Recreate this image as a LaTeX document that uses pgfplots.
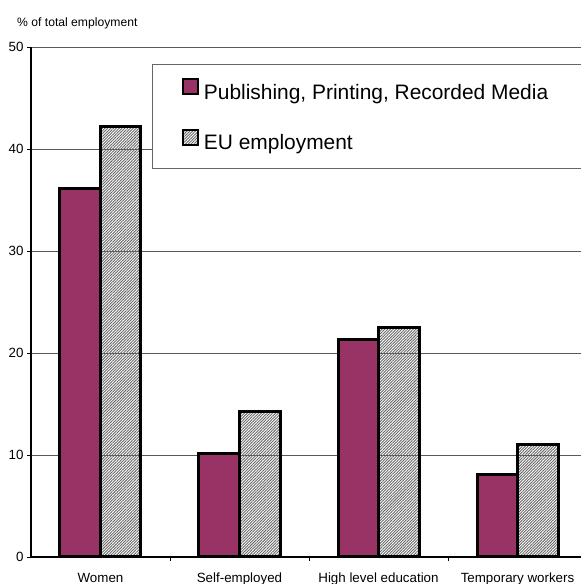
\documentclass[border=0pt]{standalone}
\usepackage{fontspec}
\setmainfont{Liberation Sans}
\usepackage{pgfplots}
\pgfplotsset{compat=1.18}
\usetikzlibrary{patterns.meta}
\definecolor{plum}{RGB}{153,51,102}
\begin{document}
\begin{tikzpicture}
\useasboundingbox (-31bp,-27bp) rectangle (550bp,557bp);
\begin{axis}[
  name=ax,
  at={(0,0)}, anchor=south west,
  scale only axis, width=556bp, height=510bp,
  xmin=-0.5, xmax=3.5, ymin=0, ymax=50,
  ybar, bar width=40.5bp,
  axis lines=left, axis line style={-, black, line width=1.2bp},
  xtick={0,1,2,3},
  xticklabels={Women,Self-employed,High level education,Temporary workers},
  minor xtick={0.5,1.5,2.5},
  ytick={0,10,20,30,40,50},
  tick align=outside,
  major tick length=4bp, minor tick length=4bp,
  major x tick style={draw=none},
  minor x tick style={black, line width=0.8bp},
  y tick style={black, line width=0.8bp},
  ymajorgrids, grid style={black!65, line width=0.7bp},
  tick label style={font=\fontsize{13.4}{16}\selectfont},
  /pgf/number format/assume math mode=true,
  xticklabel style={anchor=base, yshift=-21.5bp},
  legend image code/.code={\draw[#1, line width=1.6bp] (0bp,0bp) rectangle (15bp,15bp);},
  legend style={
    at={(0.2176,0.9667)}, anchor=north west,
    draw=black!60, line width=0.8bp, fill=white,
    font=\fontsize{21}{25}\selectfont,
    inner xsep=30bp, inner ysep=14bp,
    row sep=25bp, column sep=5bp,
    nodes={inner sep=0pt, text height=15bp, text depth=4.5bp},
    legend cell align=left,
  },
]
\addplot[bar shift=-20.25bp, fill=plum, draw=black, /tikz/line width=3bp]
  coordinates {(0,36.1) (1,10.1) (2,21.35) (3,8.05)};
\addlegendentry{\makebox[400bp][l]{Publishing, Printing, Recorded Media}}
\addplot[bar shift=20.25bp, pattern={Lines[angle=45,distance=2bp,line width=0.9bp]}, pattern color=black!60, draw=black, /tikz/line width=3bp]
  coordinates {(0,42.25) (1,14.3) (2,22.48) (3,11.0)};
\addlegendentry{\makebox[400bp][l]{EU employment}}
\end{axis}
\node[anchor=base west, font=\fontsize{12.2}{14}\selectfont, inner sep=0pt] at ([xshift=-14bp, yshift=20.5bp]ax.north west) {\% of total employment};
\end{tikzpicture}
\end{document}
